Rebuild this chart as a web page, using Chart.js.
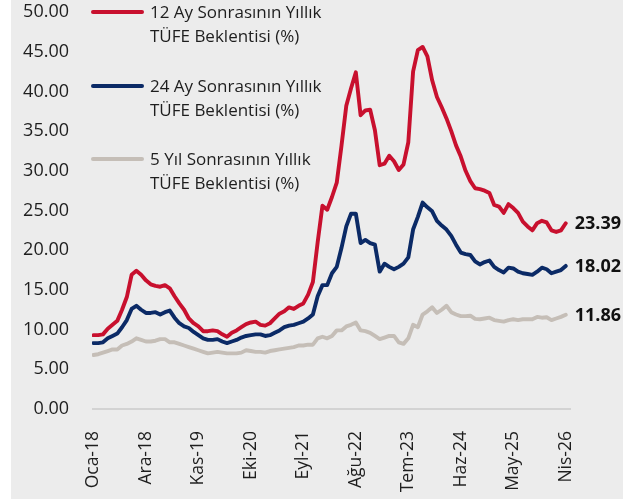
<!DOCTYPE html>
<html><head><meta charset="utf-8">
<script src="https://cdn.jsdelivr.net/npm/chart.js@4.4.1/dist/chart.umd.min.js"></script>
<style>
html,body{margin:0;padding:0;background:#fff;width:623px;height:499px;overflow:hidden}
#wrap{position:absolute;left:11px;top:0;width:612px;height:499px;background:#ececec}
canvas{display:block}
.lg{position:absolute;left:139px;font-family:"Open Sans",sans-serif;font-size:17px;line-height:24px;color:#1e1e1e;white-space:nowrap}
.sw{position:absolute;left:80px;width:53px;height:4px;border-radius:2px}
</style></head>
<body>
<div id="wrap">
<canvas id="c" width="612" height="499"></canvas>
<div class="sw" style="top:10px;background:#c8102e"></div>
<div class="lg" style="top:0px">12 Ay Sonrasının Yıllık<br>TÜFE Beklentisi (%)</div>
<div class="sw" style="top:84px;background:#0b2a66"></div>
<div class="lg" style="top:74px">24 Ay Sonrasının Yıllık<br>TÜFE Beklentisi (%)</div>
<div class="sw" style="top:157px;background:#c5beb7"></div>
<div class="lg" style="top:147px">5 Yıl Sonrasının Yıllık<br>TÜFE Beklentisi (%)</div>
</div>
<script>
const seriesNames = ['12 Ay Sonrasının Yıllık TÜFE Beklentisi (%)','24 Ay Sonrasının Yıllık TÜFE Beklentisi (%)','5 Yıl Sonrasının Yıllık TÜFE Beklentisi (%)'];
const tickLabels = ['Oca-18','Ara-18','Kas-19','Eki-20','Eyl-21','Ağu-22','Tem-23','Haz-24','May-25','Nis-26'];
const tickIndex = [0,11,22,33,44,55,66,77,88,99];
const yTicks = [0,5,10,15,20,25,30,35,40,45,50];

const exp12 = [9.3,9.3,9.4,10.1,10.6,11.1,12.5,14.1,16.9,17.4,
16.9,16.2,15.7,15.5,15.4,15.6,15.2,14.2,13.3,12.5,
11.4,10.8,10.4,9.8,9.8,9.9,9.8,9.4,9.1,9.6,
9.9,10.3,10.7,10.9,11.0,10.6,10.5,10.8,11.4,12.0,
12.3,12.8,12.6,13.0,13.3,14.4,16.0,21.0,25.6,25.1,
26.7,28.5,33.2,38.2,40.4,42.4,37.0,37.6,37.7,35.1,
30.7,30.9,31.9,31.2,30.1,30.8,33.6,42.5,45.2,45.6,
44.4,41.4,39.3,38.0,36.6,35.0,33.2,31.8,30.0,28.7,
27.8,27.7,27.5,27.2,25.7,25.5,24.7,25.8,25.3,24.7,
23.6,23.0,22.5,23.4,23.7,23.5,22.5,22.3,22.5,23.39];

const exp24 = [8.3,8.3,8.4,8.9,9.2,9.5,10.3,11.2,12.6,13.0,
12.5,12.1,12.1,12.2,11.9,12.2,12.4,11.5,10.8,10.4,
10.2,9.7,9.3,8.9,8.7,8.7,8.8,8.5,8.3,8.5,
8.7,9.0,9.2,9.3,9.4,9.4,9.2,9.3,9.6,9.9,
10.3,10.5,10.6,10.8,11.0,11.4,11.9,14.2,15.6,15.6,
17.1,17.9,20.3,23.0,24.6,24.6,20.9,21.3,20.9,20.7,
17.3,18.3,17.9,17.6,17.9,18.3,19.1,22.6,24.2,26.0,
25.4,24.9,23.7,23.1,22.6,21.8,20.7,19.7,19.5,19.4,
18.6,18.2,18.5,18.7,17.9,17.5,17.2,17.8,17.7,17.3,
17.1,17.0,16.9,17.3,17.8,17.6,17.1,17.3,17.5,18.02];

const exp5y = [6.8,6.9,7.1,7.3,7.5,7.5,8.0,8.2,8.5,8.9,
8.7,8.5,8.5,8.6,8.8,8.8,8.4,8.4,8.2,8.0,
7.8,7.6,7.4,7.2,7.0,7.1,7.2,7.1,7.0,7.0,
7.0,7.1,7.4,7.3,7.2,7.2,7.1,7.3,7.4,7.5,
7.6,7.7,7.8,8.0,8.0,8.1,8.1,8.9,9.1,8.9,
9.2,9.9,9.9,10.4,10.6,10.9,9.9,9.8,9.6,9.2,
8.8,9.0,9.2,9.2,8.4,8.2,8.9,10.6,10.3,11.9,
12.3,12.8,12.1,12.5,13.0,12.2,11.9,11.7,11.7,11.75,
11.35,11.3,11.4,11.5,11.2,11.1,11.0,11.2,11.3,11.2,
11.3,11.3,11.3,11.6,11.5,11.55,11.2,11.4,11.6,11.86];

const colors = ['#c8102e','#0b2a66','#c5beb7'];
const FONT = '"Open Sans", sans-serif';

function toPts(arr){ return arr.map((v,i)=>({x:i,y:v})); }

const endLabels = {
  id:'endLabels',
  afterDatasetsDraw(chart){
    const ctx = chart.ctx;
    ctx.save();
    ctx.font = 'bold 18px ' + FONT;
    ctx.fillStyle = '#111';
    ctx.textAlign = 'left';
    ctx.textBaseline = 'middle';
    chart.data.datasets.forEach((ds,di)=>{
      const meta = chart.getDatasetMeta(di);
      const p = meta.data[meta.data.length-1];
      const v = ds.data[ds.data.length-1].y;
      ctx.fillText(v.toFixed(2), p.x + 9, p.y + 1);
    });
    ctx.restore();
  }
};

new Chart(document.getElementById('c'), {
  type:'line',
  data:{
    datasets:[
      {label:seriesNames[0], data:toPts(exp12), borderColor:colors[0]},
      {label:seriesNames[1], data:toPts(exp24), borderColor:colors[1]},
      {label:seriesNames[2], data:toPts(exp5y), borderColor:colors[2]}
    ]
  },
  options:{
    responsive:false,
    animation:false,
    events:[],
    layout:{padding:{left:0,right:52,top:12,bottom:0}},
    elements:{
      line:{borderWidth:3.9, tension:0, borderCapStyle:'round', borderJoinStyle:'round', fill:false},
      point:{radius:0}
    },
    plugins:{legend:{display:false}, tooltip:{enabled:false}},
    scales:{
      x:{
        type:'linear', min:-0.3, max:100.1,
        grid:{display:false}, border:{display:false},
        afterBuildTicks(s){ s.ticks = tickIndex.map(v=>({value:v})); },
        afterFit(s){ s.height = 90; },
        ticks:{
          autoSkip:false, minRotation:90, maxRotation:90, padding:14,
          color:'#1e1e1e', font:{family:FONT, size:17.5},
          callback(v){ const k = tickIndex.indexOf(v); return k>=0 ? tickLabels[k] : ''; }
        }
      },
      y:{
        min:0, max:50,
        afterBuildTicks(s){ s.ticks = yTicks.map(v=>({value:v})); },
        afterFit(s){ s.width = 81; s.paddingTop = 8; s.paddingBottom = 8; },
        border:{display:false},
        grid:{drawTicks:false, lineWidth:2, color(c){ return c.tick && c.tick.value===0 ? '#d3d3d3' : 'rgba(0,0,0,0)'; }},
        ticks:{
          padding:23, color:'#1e1e1e', font:{family:FONT, size:18},
          callback(v){ return Number(v).toFixed(2); }
        }
      }
    }
  },
  plugins:[endLabels]
});
</script>
</body></html>
